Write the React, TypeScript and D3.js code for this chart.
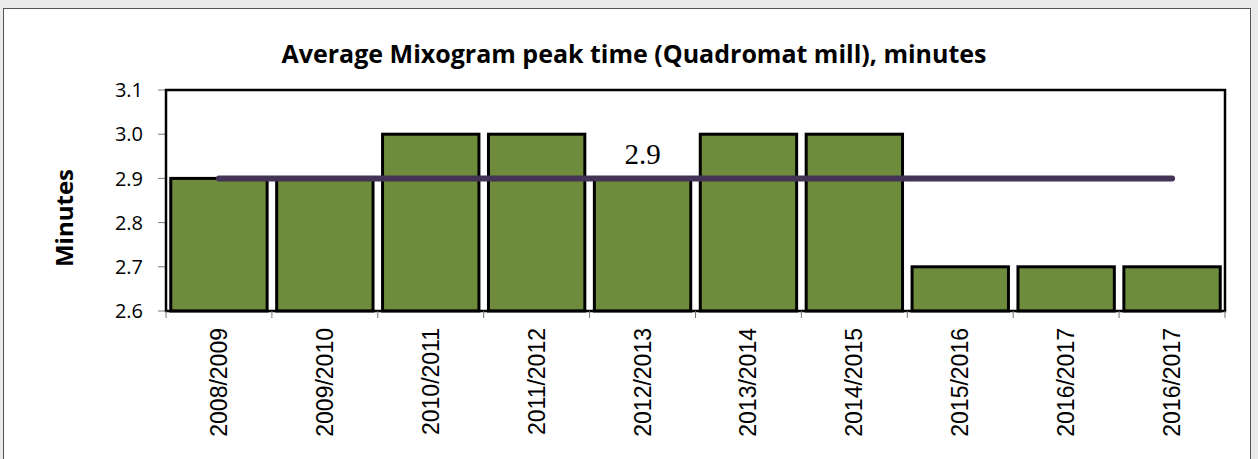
import React from 'react';
import * as d3 from 'd3';

const seasons = ['2008/2009', '2009/2010', '2010/2011', '2011/2012', '2012/2013',
  '2013/2014', '2014/2015', '2015/2016', '2016/2017', '2016/2017'];
const peakTime = [2.9, 2.9, 3.0, 3.0, 2.9, 3.0, 3.0, 2.7, 2.7, 2.7];
const average = [2.9, 2.9, 2.9, 2.9, 2.9, 2.9, 2.9, 2.9, 2.9, 2.9];
const yTicks = [2.6, 2.7, 2.8, 2.9, 3.0, 3.1];

const W = 1258;
const H = 459;
const margin = { left: 166, right: 33, top: 90, bottom: 148 };

export default function App() {
  const iw = W - margin.left - margin.right;
  const ih = H - margin.top - margin.bottom;
  const keys = seasons.map((s, i) => i);

  const x = d3.scaleBand<number>().domain(keys).range([0, iw]).paddingInner(0.09).paddingOuter(0.045);
  const step = iw / seasons.length;
  const y = d3.scaleLinear().domain([2.6, 3.1]).range([ih, 0]);

  const line = d3.line<number>()
    .x((d, i) => i * step + step / 2)
    .y(d => y(d));

  const labelFont = "'Liberation Sans', Arial, sans-serif";
  const titleFont = "'Open Sans', 'DejaVu Sans', sans-serif";

  return (
    <svg width={W} height={H} style={{ display: 'block', position: 'absolute', left: 0, top: 0 }}>
      <rect x={0} y={0} width={W} height={H} fill="#ebebeb" />
      <rect x={3.5} y={8.5} width={1247} height={460} fill="#fff" stroke="#555" strokeWidth={1} />
      <text x={634} y={63} textAnchor="middle" fontFamily={titleFont} fontWeight="bold" fontSize={25}>
        Average Mixogram peak time (Quadromat mill), minutes
      </text>
      <text transform="translate(73,218) rotate(-90)" textAnchor="middle" fontFamily={titleFont}
        fontWeight="bold" fontSize={24}>Minutes</text>
      <g transform={`translate(${margin.left},${margin.top})`}>
        {yTicks.map(t => (
          <g key={t} transform={`translate(0,${y(t)})`}>
            <line x1={-8} x2={0} stroke="#777" />
            <text x={-23} dy="0.36em" textAnchor="end" fontFamily={titleFont} fontSize={20}>{t.toFixed(1)}</text>
          </g>
        ))}
        {peakTime.map((v, i) => (
          <rect key={i} x={x(i)} y={y(v)} width={x.bandwidth()} height={ih - y(v)}
            fill="#6f8b3c" stroke="#000" strokeWidth={3} />
        ))}
        <rect x={0} y={0} width={iw} height={ih} fill="none" stroke="#000" strokeWidth={2.5} />
        {d3.range(seasons.length + 1).map(i => (
          <line key={i} x1={i * step} x2={i * step} y1={ih} y2={ih + 7} stroke="#777" />
        ))}
        {seasons.map((s, i) => (
          <text key={i} transform={`translate(${i * step + step / 2 + 8},${ih + 17}) rotate(-90)`}
            textAnchor="end" fontFamily={labelFont} fontSize={23}>{s}</text>
        ))}
        <path d={line(average) || ''} fill="none" stroke="#433456" strokeWidth={6} strokeLinecap="round" />
        <text x={4 * step + step / 2} y={y(average[4]) - 14} textAnchor="middle"
          fontFamily="'Liberation Serif', 'Times New Roman', serif" fontSize={29}>2.9</text>
      </g>
    </svg>
  );
}
